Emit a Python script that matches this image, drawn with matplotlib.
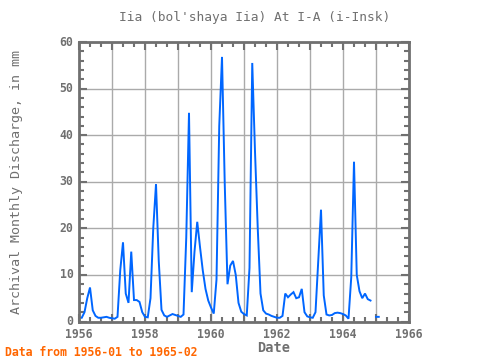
import numpy as np
import matplotlib
matplotlib.use("Agg")
import matplotlib.pyplot as plt
import matplotlib.transforms as mtransforms
from matplotlib.ticker import MultipleLocator

title = "Iia (bol'shaya Iia) At I-A (i-Insk)"
ylabel = "Archival Monthly Discharge, in mm"
xlabel = "Date"
footer = "Data from 1956-01 to 1965-02"

start_year = 1956
v1956 = [0.8, 0.8, 2.0, 5.0, 7.3, 2.4, 1.2, 0.8, 0.8, 0.9, 1.0, 0.8]
v1957 = [0.7, 0.6, 1.0, 11.0, 17.0, 6.0, 4.0, 15.0, 4.6, 4.6, 4.2, 2.0]
v1958 = [1.0, 0.9, 5.0, 20.0, 29.5, 13.0, 2.5, 1.3, 1.0, 1.3, 1.6, 1.4]
v1959 = [1.2, 1.0, 1.5, 18.0, 44.8, 6.3, 15.0, 21.4, 16.0, 11.0, 7.0, 4.5]
v1960 = [3.0, 1.7, 9.0, 42.0, 56.8, 29.5, 8.0, 12.0, 13.0, 10.0, 4.0, 2.1]
v1961 = [1.6, 1.3, 11.5, 55.5, 36.5, 20.0, 6.0, 2.4, 1.7, 1.5, 1.2, 1.0]
v1962 = [0.8, 0.8, 1.2, 6.0, 5.2, 5.8, 6.3, 5.0, 5.2, 7.0, 2.0, 1.1]
v1963 = [0.9, 0.8, 2.0, 13.0, 24.0, 5.6, 1.5, 1.3, 1.4, 1.8, 1.9, 1.8]
v1964 = [1.6, 1.3, 0.6, 9.5, 34.3, 10.0, 6.5, 5.0, 6.0, 4.8, 4.5, np.nan]
v1965 = [1.0, 1.0]

values = np.array(v1956 + v1957 + v1958 + v1959 + v1960 + v1961 + v1962 + v1963 + v1964 + v1965, dtype=float)
dates = start_year + np.arange(len(values)) / 12.0

year_ticks = list(range(1956, 1967))
yticks = [0, 10, 20, 30, 40, 50, 60]

gray = "#707070"
font = "DejaVu Sans Mono"

fig = plt.figure(figsize=(4.8, 3.6), dpi=100)
ax = fig.add_axes([79/480, 38.5/360, 330/480, 279.5/360])
ax.plot(dates, values, color="#0066ff", lw=1.4, solid_joinstyle="miter")

ax.set_xlim(1956, 1966)
ax.set_ylim(0, 60)
ax.set_xticks(year_ticks)
ax.set_xticklabels([str(y) if y % 2 == 0 else "" for y in year_ticks])
ax.set_yticks(yticks)
ax.xaxis.set_minor_locator(MultipleLocator(1/3))
ax.yaxis.set_minor_locator(MultipleLocator(2))
ax.grid(True, which="major", color="#aaaaaa", lw=1.0)
ax.tick_params(axis="x", which="major", pad=4.5)
ax.tick_params(axis="y", which="major", pad=4)
ax.tick_params(axis="both", which="major", direction="in", length=6, width=1.5,
               color=gray, top=True, right=True, labelsize=8.3, labelcolor=gray)
ax.tick_params(axis="both", which="minor", direction="in", length=3.5, width=1.5,
               color=gray, top=True, right=True)
shift_up = mtransforms.ScaledTranslation(0, 1.5/100, fig.dpi_scale_trans)
for lab in ax.get_yticklabels():
    lab.set_transform(lab.get_transform() + shift_up)
for lab in ax.get_xticklabels() + ax.get_yticklabels():
    lab.set_fontfamily(font)
    lab.set_fontweight("bold")
for s in ax.spines.values():
    s.set_color(gray)
    s.set_linewidth(2)

fig.text(255/480, 1 - 17/360, title, ha="center", va="center", fontsize=9.3,
         color=gray, family=font)
fig.text(17/480, 1 - 182/360, ylabel, ha="center", va="center", rotation=90,
         fontsize=9.6, color=gray, family=font)
fig.text(274/480, 1 - 348/360, xlabel, ha="center", va="center", fontsize=9.8,
         color=gray, family=font, fontweight="bold")
fig.text(5/480, 1 - 352/360, footer, ha="left", va="center", fontsize=8.3,
         color="#ff6600", family=font, fontweight="bold")

fig.savefig("out.png", dpi=100)
